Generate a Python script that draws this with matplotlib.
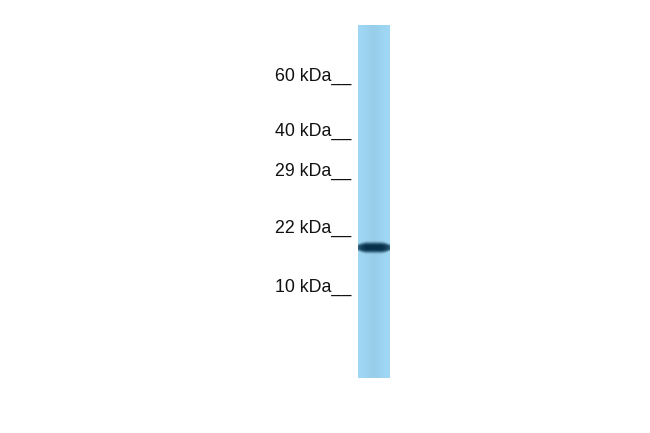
import numpy as np
import matplotlib
matplotlib.use("Agg")
import matplotlib.pyplot as plt
from matplotlib.colors import to_rgb

# ================= DATA =================
marker_labels = ["60 kDa", "40 kDa", "29 kDa", "22 kDa", "10 kDa"]
marker_rows = [76, 131, 171, 228, 287]      # migration (px from top of image)

lane_top, lane_bottom = 25, 378
lane_left, lane_right = 358, 390

band_rows = [248]          # detected band centre
band_strength = [1.0]

LANE_COLOR = to_rgb("#9fd7f4")
BAND_COLOR = to_rgb("#06304a")


# ================= LANE IMAGE =================
def lane_image():
    h = lane_bottom - lane_top
    w = lane_right - lane_left
    ys = np.arange(h * 2) / 2 + lane_top + 0.25
    xs = np.linspace(0, 1, w * 4)
    img = np.ones((h * 2, w * 4, 3)) * np.array(LANE_COLOR)

    # slightly lighter edges of the lane
    edge = 1 - 0.04 * np.exp(-((xs - 0.5) / 0.25) ** 2)
    img *= edge[None, :, None]
    img = np.clip(img, 0, 1)

    for row, s in zip(band_rows, band_strength):
        # band is a bit thinner at the left and right ends
        prof_x = np.clip(1.15 - 10 * np.abs(xs - 0.5) ** 3, 0, 1)
        half = 5.0 * (0.6 + 0.4 * prof_x[None, :])
        thick = np.exp(-((ys[:, None] - row + 0.5) / half) ** 4)
        inten = np.clip(s * thick * (0.75 + 0.25 * prof_x[None, :]), 0, 1)
        img = img * (1 - inten[..., None]) + np.array(BAND_COLOR) * inten[..., None]
    return img


# ================= PLOT =================
fig = plt.figure(figsize=(6.5, 4.33), dpi=100)
ax = fig.add_axes([0, 0, 1, 1])
ax.set_xlim(0, 650)
ax.set_ylim(433, 0)
ax.axis("off")

ax.imshow(lane_image(), extent=(lane_left, lane_right, lane_bottom, lane_top),
          aspect="auto", interpolation="bilinear")

for lab, row in zip(marker_labels, marker_rows):
    ax.text(351, row, lab + "__", ha="right", va="center",
            fontsize=12.8, family="Liberation Sans", color="#111111")

fig.savefig("out.png", dpi=100)
plt.close(fig)
